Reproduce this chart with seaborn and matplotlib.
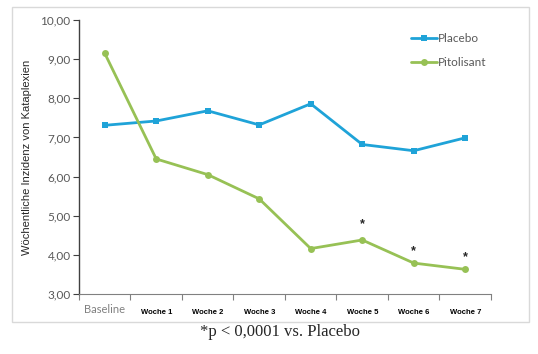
import pandas as pd
import matplotlib.pyplot as plt
import seaborn as sns
from matplotlib.patches import Rectangle

# Data #########################################################################
WEEKS = ['Baseline', 'Woche 1', 'Woche 2', 'Woche 3', 'Woche 4',
         'Woche 5', 'Woche 6', 'Woche 7']
PLACEBO = [7.31, 7.42, 7.68, 7.32, 7.86, 6.82, 6.66, 6.99]
PITOLISANT = [9.15, 6.45, 6.05, 5.43, 4.16, 4.38, 3.79, 3.63]
STAR_WEEKS = ['Woche 5', 'Woche 6', 'Woche 7']
STAR_Y = [4.78, 4.10, 3.93]
YTICKS = [3, 4, 5, 6, 7, 8, 9, 10]

BLUE = '#1fa3d8'
GREEN = '#97c155'
GRAY = '#595959'

df = pd.DataFrame({
    'week': WEEKS * 2,
    'value': PLACEBO + PITOLISANT,
    'group': ['Placebo'] * len(WEEKS) + ['Pitolisant'] * len(WEEKS),
})

sns.set_style('white')
plt.rcParams['font.family'] = ['Liberation Sans', 'DejaVu Sans']

fig = plt.figure(figsize=(5.38, 3.54), dpi=100)
ax = fig.add_axes([0.1468, 0.1695, 0.7658, 0.774])

# light frame around the chart
fig.patches.append(Rectangle((12 / 538, 1 - 322 / 354), 517 / 538, 315 / 354,
                             transform=fig.transFigure, fill=False,
                             edgecolor='#d9d9d9', linewidth=1))

sns.lineplot(ax=ax, data=df, x='week', y='value', hue='group', style='group',
             hue_order=['Placebo', 'Pitolisant'],
             palette={'Placebo': BLUE, 'Pitolisant': GREEN},
             markers={'Placebo': 's', 'Pitolisant': 'o'}, dashes=False,
             linewidth=2, markersize=5, markeredgewidth=0, sort=False)

ax.set_xlim(-0.5, len(WEEKS) - 0.5)
ax.set_ylim(3, 10)
ax.set_yticks(YTICKS)
ax.set_yticklabels([f'{v:.2f}'.replace('.', ',') for v in YTICKS],
                   color=GRAY, fontfamily='Lato', fontsize=8.5)
ax.tick_params(axis='y', direction='out', length=4, width=0.8, color='#404040', pad=2,
               left=True)

# category labels, tick marks at the boundaries
ax.set_xticks(range(len(WEEKS)))
ax.set_xticklabels(WEEKS)
ax.tick_params(axis='x', length=0, pad=11)
ax.set_xticks([i - 0.5 for i in range(len(WEEKS) + 1)], minor=True)
ax.tick_params(axis='x', which='minor', direction='out', length=4, width=0.8,
               color='#808080', bottom=True)
for i, lab in enumerate(ax.get_xticklabels()):
    if i == 0:
        lab.set_fontfamily('Lato')
        lab.set_fontsize(8)
        lab.set_color('#808080')
        lab.set_y(0.02)
    else:
        lab.set_fontsize(5.5)
        lab.set_fontweight('bold')
        lab.set_color('black')

ax.set_xlabel('')
ax.set_ylabel('Wöchentliche Inzidenz von Kataplexien', fontsize=8, labelpad=6)

for s in ['top', 'right']:
    ax.spines[s].set_visible(False)
ax.spines['left'].set_color('#404040')
ax.spines['left'].set_linewidth(1)
ax.spines['bottom'].set_color('#808080')
ax.spines['bottom'].set_linewidth(0.8)

# significance markers
for w, y in zip(STAR_WEEKS, STAR_Y):
    ax.text(WEEKS.index(w), y, '*', ha='center', va='center', fontsize=9,
            fontweight='bold')

leg = ax.legend(loc='upper left', bbox_to_anchor=(0.78, 0.99), frameon=False,
                fontsize=8.5, handlelength=2.2, handletextpad=0.1, labelspacing=1.1)
for t in leg.get_texts():
    t.set_color(GRAY)
    t.set_fontfamily('Lato')

fig.text(0.52, 0.062, '*p < 0,0001 vs. Placebo', ha='center', va='center',
         fontfamily='Liberation Serif', fontsize=12)

fig.savefig('out.png', dpi=100)
